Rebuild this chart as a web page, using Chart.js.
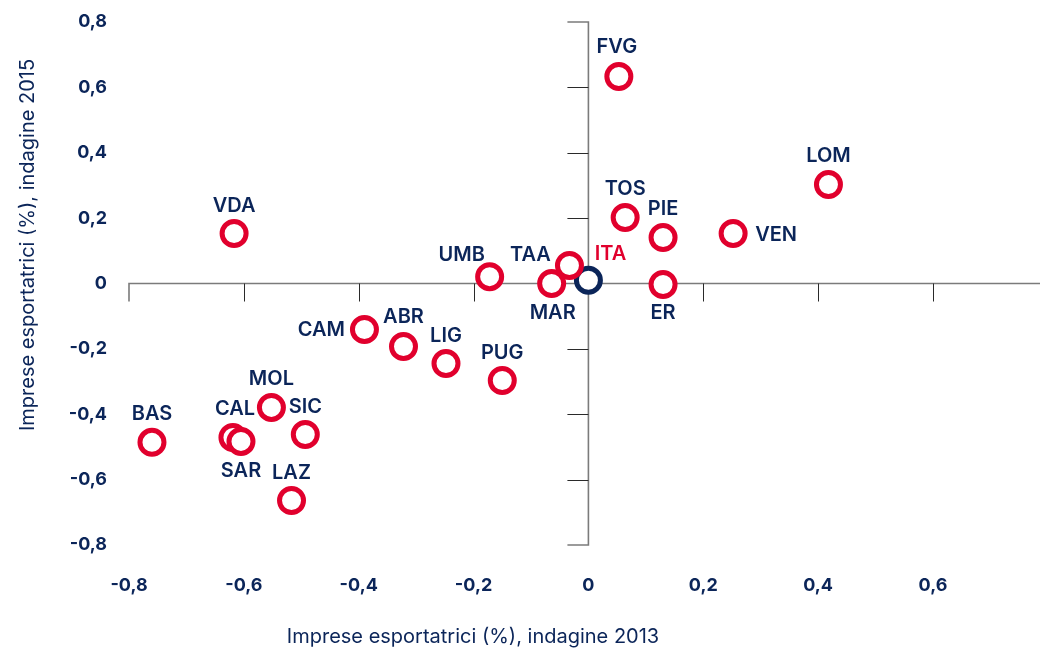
<!DOCTYPE html>
<html lang="it">
<head>
<meta charset="utf-8">
<title>Imprese esportatrici 2013-2015</title>
<script src="https://cdn.jsdelivr.net/npm/chart.js@4.4.1/dist/chart.umd.min.js"></script>
<style>
  html, body { margin: 0; padding: 0; background: #fff; overflow: hidden; }
  #scatterChart { display: block; }
</style>
</head>
<body>
<canvas id="scatterChart" width="1043" height="650"></canvas>
<script>
// regions, drawn in this order (later ones sit on top)
const regions = ["FVG", "LOM", "TOS", "PIE", "VEN", "ER", "UMB", "TAA", "MAR", "CAM",
                 "ABR", "LIG", "PUG", "MOL", "SIC", "CAL", "SAR", "LAZ", "BAS", "VDA"];
// change in exporting firms, 2013 survey (x) and 2015 survey (y)
const survey2013 = [0.053, 0.418, 0.064, 0.13, 0.252, 0.13, -0.172, -0.033, -0.064, -0.39,
                    -0.322, -0.248, -0.15, -0.552, -0.493, -0.619, -0.605, -0.517, -0.76, -0.617];
const survey2015 = [0.633, 0.303, 0.202, 0.141, 0.153, -0.003, 0.021, 0.055, 0.0, -0.141,
                    -0.193, -0.245, -0.297, -0.379, -0.462, -0.471, -0.483, -0.664, -0.486, 0.153];
const italyLabel = "ITA";
const italyX = [0.0];
const italyY = [0.01];
const xTickValues = [-0.8, -0.6, -0.4, -0.2, 0, 0.2, 0.4, 0.6];
const yTickValues = [-0.8, -0.6, -0.4, -0.2, 0, 0.2, 0.4, 0.6, 0.8];
const xTitle = "Imprese esportatrici (%), indagine 2013";
const yTitle = "Imprese esportatrici (%), indagine 2015";

const NAVY = "#0b2559";
const RED = "#e1002d";
const FONT = "Inter, 'Noto Sans', sans-serif";

// label offsets from the ring centre, default is straight above
const labelOffset = {
  FVG: [-2, -30], VEN: [43, 1], ER: [0, 29], ITA: [22, -26], TAA: [-39, -11],
  MAR: [1, 29], UMB: [-28, -22], CAM: [-43, 0], ABR: [0, -30], CAL: [2, -28],
  SAR: [0, 30]
};

const fmt = (v) => (Math.abs(v) < 1e-9 ? "0" : v.toFixed(1).replace(".", ","));

// axes crossing at the origin, with short tick marks
const crossAxes = {
  id: "crossAxes",
  beforeDatasetsDraw(chart) {
    const { ctx, scales: { x, y } } = chart;
    const x0 = x.getPixelForValue(0);
    const y0 = y.getPixelForValue(0);
    const xl = x.getPixelForValue(xTickValues[0]);
    const yt = y.getPixelForValue(yTickValues[yTickValues.length - 1]);
    const yb = y.getPixelForValue(yTickValues[0]);
    ctx.save();
    ctx.strokeStyle = "#7b7b7b";
    ctx.lineWidth = 1.6;
    // horizontal axis runs out to the canvas edge
    ctx.beginPath();
    ctx.moveTo(xl, y0 + 18);
    ctx.lineTo(xl, y0);
    ctx.lineTo(chart.width - 3, y0);
    ctx.stroke();
    ctx.beginPath();
    ctx.moveTo(x0 - 21, yt);
    ctx.lineTo(x0, yt);
    ctx.lineTo(x0, yb);
    ctx.lineTo(x0 - 21, yb);
    ctx.stroke();

    ctx.strokeStyle = "#2a2a2a";
    ctx.lineWidth = 1;
    xTickValues.slice(1).forEach((v) => {
      if (v === 0) return;
      const px = Math.round(x.getPixelForValue(v)) + 0.5;
      ctx.beginPath();
      ctx.moveTo(px, y0);
      ctx.lineTo(px, y0 + 18);
      ctx.stroke();
    });
    yTickValues.slice(1, -1).forEach((v) => {
      if (v === 0) return;
      const py = Math.round(y.getPixelForValue(v)) + 0.5;
      ctx.beginPath();
      ctx.moveTo(x0 - 21, py);
      ctx.lineTo(x0, py);
      ctx.stroke();
    });
    ctx.restore();
  }
};

// region codes next to each ring, plus the two axis titles
const pointLabels = {
  id: "pointLabels",
  afterDatasetsDraw(chart) {
    const { ctx } = chart;
    ctx.save();
    ctx.font = "600 20px " + FONT;
    ctx.textAlign = "center";
    ctx.textBaseline = "middle";
    chart.data.datasets.forEach((ds, i) => {
      chart.getDatasetMeta(i).data.forEach((pt, j) => {
        const name = ds.names[j];
        const [dx, dy] = labelOffset[name] || [0, -28];
        ctx.fillStyle = ds.labelColor;
        ctx.fillText(name, pt.x + dx, pt.y + dy);
      });
    });

    ctx.font = "400 20px " + FONT;
    ctx.fillStyle = NAVY;
    ctx.fillText(xTitle, 473, 637);
    ctx.translate(28, 245);
    ctx.rotate(-Math.PI / 2);
    ctx.fillText(yTitle, 0, 0);
    ctx.restore();
  }
};

const tickFont = { family: FONT, size: 18, weight: "700" };

// fixed scale boxes, no extra room for edge labels
const noEdgePadding = (scale) => {
  scale.paddingLeft = 0;
  scale.paddingRight = 0;
  scale.paddingTop = 0;
  scale.paddingBottom = 0;
};

const chart = new Chart(document.getElementById("scatterChart"), {
  type: "scatter",
  data: {
    datasets: [
      {
        label: "Regioni",
        names: regions,
        labelColor: NAVY,
        data: regions.map((r, i) => ({ x: survey2013[i], y: survey2015[i] })),
        pointRadius: 12,
        pointBorderWidth: 5,
        pointBorderColor: RED,
        pointBackgroundColor: "#fff"
      },
      {
        label: italyLabel,
        names: [italyLabel],
        labelColor: RED,
        data: italyX.map((v, i) => ({ x: v, y: italyY[i] })),
        pointRadius: 12,
        pointBorderWidth: 5,
        pointBorderColor: NAVY,
        pointBackgroundColor: "#fff"
      }
    ]
  },
  options: {
    responsive: false,
    animation: false,
    layout: { padding: { left: 0, right: 2, top: 22, bottom: 0 } },
    plugins: {
      legend: { display: false },
      tooltip: { enabled: false }
    },
    scales: {
      x: {
        type: "linear",
        min: -0.8,
        max: 0.762,
        // tick marks are drawn by crossAxes, the length only spaces the labels
        grid: { display: false, drawTicks: true, tickLength: 30 },
        border: { display: false },
        afterBuildTicks: (scale) => { scale.ticks = xTickValues.map((v) => ({ value: v })); },
        afterFit: (scale) => { scale.height = 105; noEdgePadding(scale); },
        ticks: {
          padding: 0,
          color: NAVY,
          font: tickFont,
          maxRotation: 0,
          callback: (v) => fmt(v)
        }
      },
      y: {
        type: "linear",
        min: -0.8,
        max: 0.8,
        grid: { display: false, drawTicks: true, tickLength: 22 },
        border: { display: false },
        afterBuildTicks: (scale) => { scale.ticks = yTickValues.map((v) => ({ value: v })); },
        afterFit: (scale) => { scale.width = 129; noEdgePadding(scale); },
        ticks: {
          padding: 0,
          color: NAVY,
          font: tickFont,
          callback: (v) => fmt(v)
        }
      }
    }
  },
  plugins: [crossAxes, pointLabels]
});
</script>
</body>
</html>
